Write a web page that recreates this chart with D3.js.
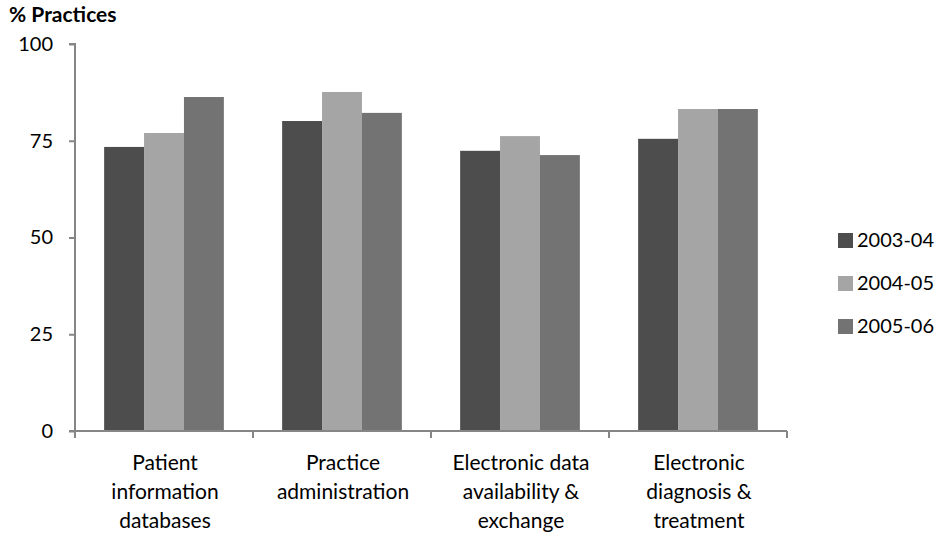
<!DOCTYPE html>
<html><head><meta charset="utf-8">
<script src="https://cdn.jsdelivr.net/npm/d3@7"></script>
<style>body{margin:0;background:#fff;} text{font-family:Lato, "Open Sans", sans-serif;}</style>
</head><body><svg id="c" width="939" height="535"></svg>
<script>
const categories = [["Patient","information","databases"],["Practice","administration"],["Electronic data","availability &","exchange"],["Electronic","diagnosis &","treatment"]];
const seriesNames = ["2003-04","2004-05","2005-06"];
const values2003 = [73.4, 80.1, 72.4, 75.5];
const values2004 = [77.0, 87.6, 76.2, 83.2];
const values2005 = [86.3, 82.2, 71.3, 83.2];
const yTicks = [0,25,50,75,100];
const colors = ["#4d4d4d","#a5a5a5","#737373"];

(function(){
const svg = d3.select("#c");
const mLeft = 75, mRight = 787, mTop = 44, mBottom = 431;
const x = d3.scaleBand().domain(d3.range(categories.length)).range([mLeft, mRight]).paddingInner(0).paddingOuter(0);
const y = d3.scaleLinear().domain([0,100]).range([mBottom, mTop]);
const inner = d3.scaleBand().domain(d3.range(3)).range([0, x.bandwidth()]).paddingOuter(0.73).paddingInner(0);
const series = [values2003, values2004, values2005];

series.forEach((vals, si) => {
  svg.append("g").selectAll("rect").data(vals).join("rect")
    .attr("x", (d,i) => x(i) + inner(si))
    .attr("width", inner.bandwidth())
    .attr("y", d => y(d))
    .attr("height", d => y(0) - y(d))
    .attr("fill", colors[si]);
});

const axisColor = "#868686";
const ya = svg.append("g").attr("transform", `translate(${mLeft},0)`)
  .call(d3.axisLeft(y).tickValues(yTicks).tickSize(6).tickPadding(16));
ya.selectAll("path,line").attr("stroke", axisColor).attr("stroke-width", 2);
ya.select(".domain").attr("d", `M-6,${mTop}H0V${mBottom}`);
ya.selectAll("text").attr("font-size", 20).attr("fill", "#000").attr("font-family","Lato, 'Open Sans', sans-serif");

const xa = svg.append("g").attr("transform", `translate(0,${mBottom})`);
xa.append("line").attr("x1", mLeft - 6).attr("x2", mRight).attr("stroke", axisColor).attr("stroke-width", 2);
const bounds = d3.range(categories.length + 1).map(i => i < categories.length ? x(i) : mRight);
xa.selectAll("line.t").data(bounds).join("line").attr("class","t")
  .attr("x1", d => d).attr("x2", d => d).attr("y1", 0).attr("y2", 7)
  .attr("stroke", axisColor).attr("stroke-width", 2);
categories.forEach((lines, i) => {
  const t = svg.append("text").attr("text-anchor","middle").attr("font-size",21).attr("fill","#000");
  lines.forEach((l, k) => {
    t.append("tspan").attr("x", x(i) + x.bandwidth()/2 + 1).attr("y", 470 + k*29).text(l);
  });
});

svg.append("text").attr("x", 9).attr("y", 22).attr("font-size", 21).attr("font-weight", "bold").text("% Practices");

const lg = svg.append("g");
seriesNames.forEach((n, i) => {
  const yy = 240 + i*43;
  lg.append("rect").attr("x", 838).attr("y", yy - 7).attr("width", 15).attr("height", 15).attr("fill", colors[i]);
  lg.append("text").attr("x", 857).attr("y", yy + 7).attr("font-size", 20).text(n);
});
})();
</script></body></html>
